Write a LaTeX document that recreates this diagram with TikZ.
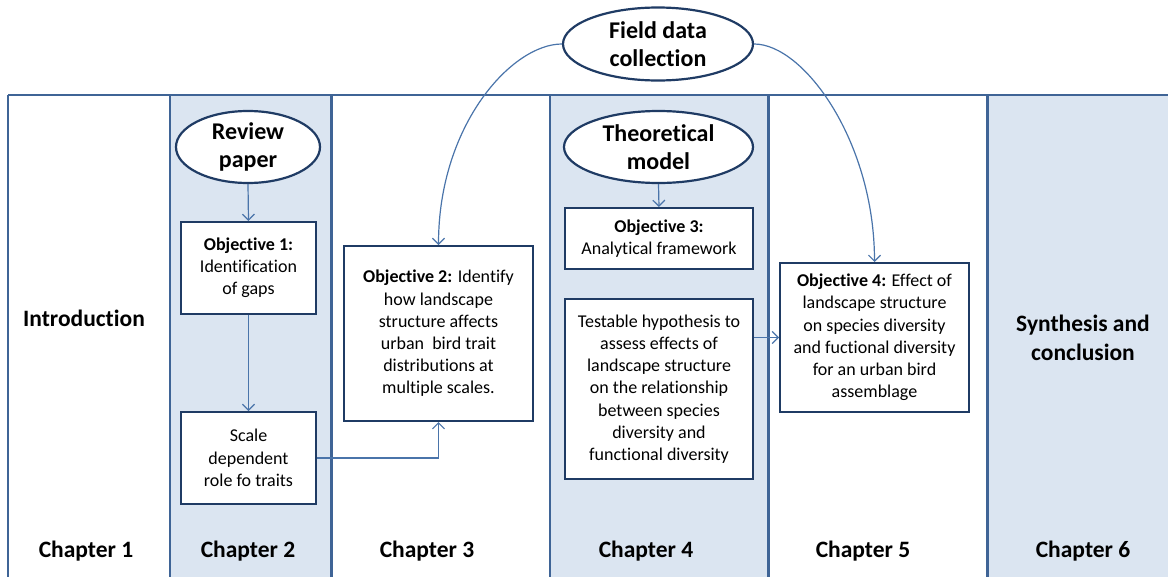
\documentclass[tikz,border=0pt]{standalone}
\usepackage{fontspec}
\setmainfont{Carlito}[Ligatures={NoCommon}]
\usetikzlibrary{shapes.geometric,arrows.meta}
\definecolor{framec}{HTML}{3F6496}
\definecolor{fillc}{HTML}{DBE5F1}
\definecolor{boxc}{HTML}{1F3B64}
\definecolor{connc}{HTML}{4A74AA}
\tikzset{
  box/.style={draw=boxc, line width=2pt, fill=white, inner sep=0pt, align=center, font=\fontsize{18}{22.2}\selectfont},
  oval/.style={ellipse, draw=boxc, line width=2.2pt, fill=white, inner sep=0pt, align=center, font=\fontsize{24}{28}\selectfont\bfseries},
  title/.style={inner sep=0pt, align=center, font=\fontsize{23.5}{29}\selectfont\bfseries},
  conn/.style={draw=connc, line width=1.2pt, -{Straight Barb[length=6pt,width=12pt,line width=1.2pt]}},
  divider/.style={draw=framec, line width=3pt}
}
\begin{document}
\begin{tikzpicture}[x=1pt,y=-1pt]
\useasboundingbox (0,0) rectangle (1168,576);
% column fills
\fill[fillc] (170,95) rectangle (331,580);
\fill[fillc] (550,95) rectangle (768,580);
\fill[fillc] (987,95) rectangle (1172,580);
% frame
\draw[draw=framec, line width=2.5pt] (8,95) -- (1172,95);
\draw[divider, line width=2.5pt] (8,95) -- (8,580);
\draw[divider, line width=2.5pt] (170,95) -- (170,580);
\draw[divider] (331,95) -- (331,580);
\draw[divider, line width=2.5pt] (550,95) -- (550,580);
\draw[divider] (768,95) -- (768,580);
\draw[divider] (987,95) -- (987,580);
% ovals
\node[oval, minimum width=190pt, minimum height=73pt] (fdc) at (658,44) {Field data\\collection};
\node[oval, minimum width=144pt, minimum height=72pt] (rp) at (248,147) {Review\\paper};
\node[oval, minimum width=189pt, minimum height=72pt] (tm) at (658.5,147) {Theoretical\\model};
% boxes
\node[box, minimum width=135pt, minimum height=92pt] (obj1) at (248.5,268) {\textbf{Objective 1:}\\Identification\\of gaps};
\node[box, minimum width=135pt, minimum height=92pt] (scale) at (248.5,458) {Scale\\dependent\\role fo traits};
\node[box, minimum width=189pt, minimum height=175pt] (obj2) at (438.5,333.5) {\textbf{Objective 2:} Identify\\how landscape\\structure affects\\urban\ \ bird trait\\distributions at\\multiple scales.};
\node[box, minimum width=188pt, minimum height=61pt] (obj3) at (659,238.5) {\textbf{Objective 3:}\\Analytical framework};
\node[box, minimum width=188pt, minimum height=180pt] (test) at (659,389) {Testable hypothesis to\\assess effects of\\landscape structure\\on the relationship\\between species\\diversity and\\functional diversity};
\node[box, minimum width=189pt, minimum height=149pt] (obj4) at (874.5,337.5) {\textbf{Objective 4:} Effect of\\landscape structure\\on species diversity\\and fuctional diversity\\for an urban bird\\assemblage};
% titles
\node[title] (intro) at (84,318) {Introduction};
\node[title] (synth) at (1083,337.5) {Synthesis and\\conclusion};
\node[title] (ch1) at (86,551) {Chapter 1};
\node[title] (ch2) at (248,551) {Chapter 2};
\node[title] (ch3) at (427,551) {Chapter 3};
\node[title] (ch4) at (646,551) {Chapter 4};
\node[title] (ch5) at (863,551) {Chapter 5};
\node[title] (ch6) at (1083,551) {Chapter 6};
% connectors
\draw[conn] (rp.south) -- (obj1.north);
\draw[conn] (obj1.south) -- (scale.north);
\draw[conn] (scale.east) -| (obj2.south);
\draw[conn] (tm.south) -- (obj3.north);
\draw[conn] (test.east |- obj4.west) -- (obj4.west);
\draw[conn] (fdc.west) .. controls +(-50,0) and +(0,-120) .. (obj2.north);
\draw[conn] (fdc.east) .. controls +(50,0) and +(0,-120) .. (obj4.north);
\end{tikzpicture}
\end{document}
